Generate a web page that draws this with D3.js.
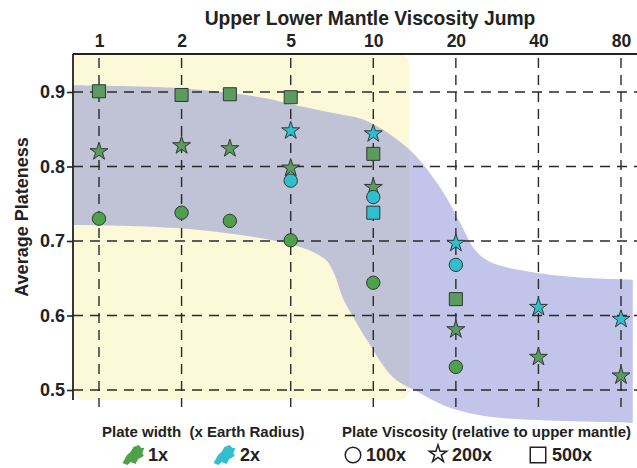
<!DOCTYPE html>
<html><head><meta charset="utf-8">
<script src="https://cdn.jsdelivr.net/npm/d3@7"></script>
<style>
html,body{margin:0;padding:0;background:#fff;}
svg{display:block;font-family:"Liberation Sans",Arial,sans-serif;}
</style></head>
<body>
<svg id="chart" width="637" height="468"></svg>
<script>
// ---- data ----
const xTicks = [1, 2, 5, 10, 20, 40, 80];
const yTicks = [0.5, 0.6, 0.7, 0.8, 0.9];

// 1x plate width
const g100Jump = [1, 2, 3, 5, 10, 20];
const g100Val  = [0.730, 0.738, 0.727, 0.701, 0.644, 0.531];
const g200Jump = [1, 2, 3, 5, 10, 20, 40, 80];
const g200Val  = [0.820, 0.828, 0.824, 0.798, 0.772, 0.581, 0.544, 0.519];
const g500Jump = [1, 2, 3, 5, 10, 20];
const g500Val  = [0.901, 0.896, 0.897, 0.893, 0.817, 0.622];
// 2x plate width
const c100Jump = [5, 10, 20];
const c100Val  = [0.781, 0.759, 0.668];
const c200Jump = [5, 10, 20, 40, 80];
const c200Val  = [0.848, 0.844, 0.697, 0.611, 0.595];
const c500Jump = [10];
const c500Val  = [0.738];

// shaded band (upper and lower boundary)
const bandUpperJump = [0.804, 1.97, 3.86, 5.40, 7.56, 9.48, 13.6, 17.5, 20.7, 23.5, 26.6, 34.2, 52.1, 88.3];
const bandUpperVal  = [0.909, 0.905, 0.893, 0.881, 0.870, 0.861, 0.822, 0.772, 0.725, 0.688, 0.672, 0.661, 0.652, 0.648];
const bandLowerJump = [0.804, 1.97, 3.86, 5.40, 6.13, 6.78, 7.24, 7.75, 8.57, 9.48, 11.8, 14.8, 18.2, 24.5, 37.2, 88.3];
const bandLowerVal  = [0.7215, 0.717, 0.704, 0.692, 0.684, 0.673, 0.654, 0.623, 0.594, 0.567, 0.517, 0.496, 0.479, 0.466, 0.460, 0.456];

// highlighted (yellow) region upper bound of viscosity jump
const highlightJumpMax = 13.5;

// ---- layout ----
const svg = d3.select("#chart");
const axisTop = 54, axisBottom = 400, axisLeft = 73, rightEdge = 637;
const x = d3.scaleLog().base(2).domain([1, 80]).range([99, 621]);
const y = d3.scaleLinear().domain([0.5, 0.9]).range([390, 92]);

const greenSq = "#5d9a60", greenC = "#4ea04a", cyan = "#30bfcc";

// yellow highlight
svg.append("rect")
  .attr("x", axisLeft).attr("y", axisTop)
  .attr("width", x(highlightJumpMax) - axisLeft)
  .attr("height", axisBottom - axisTop)
  .attr("rx", 10).attr("ry", 10)
  .attr("fill", "#fbf9d8");
svg.append("rect")
  .attr("x", axisLeft).attr("y", axisTop)
  .attr("width", 20).attr("height", 20)
  .attr("fill", "#fbf9d8");

// band
const upperPts = bandUpperJump.map((j, i) => [x(j), y(bandUpperVal[i])]);
const lowerPts = bandLowerJump.map((j, i) => [x(j), y(bandLowerVal[i])]).reverse();
const ln = d3.line().curve(d3.curveCatmullRom.alpha(0.5));
const bandPath = ln(upperPts) + "L" + ln(lowerPts).slice(1) + "Z";
svg.append("path").attr("d", bandPath)
  .attr("fill", "#868bd4").attr("fill-opacity", 0.5);

// grid
const dash = "10,7";
svg.append("g").selectAll("line").data(yTicks).join("line")
  .attr("x1", axisLeft).attr("x2", rightEdge)
  .attr("y1", d => y(d)).attr("y2", d => y(d))
  .attr("stroke", "#2a2a2a").attr("stroke-width", 1.6)
  .attr("stroke-dasharray", dash);
svg.append("g").selectAll("line").data(xTicks).join("line")
  .attr("x1", d => x(d)).attr("x2", d => x(d))
  .attr("y1", axisTop).attr("y2", 407)
  .attr("stroke", "#2a2a2a").attr("stroke-width", 1.4)
  .attr("stroke-dasharray", dash).attr("stroke-dashoffset", -4);

// axes
const topAxis = d3.axisTop(x).tickValues(xTicks).tickFormat(d3.format("d")).tickSize(0).tickPadding(7);
const gTop = svg.append("g").attr("transform", `translate(0,${axisTop})`).call(topAxis);
gTop.select(".domain").attr("d", `M${axisLeft},0H${rightEdge}`).attr("stroke", "#222").attr("stroke-width", 1.8);
gTop.selectAll("text").attr("font-size", 17.5).attr("font-weight", "bold").attr("fill", "#222")
  .attr("font-family", "Liberation Sans, Arial, sans-serif");

const leftAxis = d3.axisLeft(y).tickValues(yTicks).tickFormat(d3.format(".1f")).tickSize(6).tickPadding(2);
const gLeft = svg.append("g").attr("transform", `translate(${axisLeft},0)`).call(leftAxis);
gLeft.select(".domain").attr("d", `M0,${axisTop}V${axisBottom}`).attr("stroke", "#222").attr("stroke-width", 1.8);
gLeft.selectAll(".tick line").attr("stroke", "#222").attr("stroke-width", 1.6);
gLeft.selectAll("text").attr("font-size", 18).attr("font-weight", "bold").attr("fill", "#222")
  .attr("font-family", "Liberation Sans, Arial, sans-serif");

// titles
svg.append("text").attr("x", 370).attr("y", 25).attr("text-anchor", "middle")
  .attr("font-size", 19.3).attr("font-weight", "bold").attr("fill", "#222")
  .text("Upper Lower Mantle Viscosity Jump");
svg.append("text").attr("transform", "translate(28,217) rotate(-90)").attr("text-anchor", "middle")
  .attr("font-size", 18).attr("font-weight", "bold").attr("fill", "#222")
  .text("Average Plateness");

// markers
function drawSeries(jumps, vals, type, size, color) {
  const sym = d3.symbol().type(type).size(size);
  svg.append("g").selectAll("path").data(jumps).join("path")
    .attr("transform", (d, i) => `translate(${x(d)},${y(vals[i])})`)
    .attr("d", sym)
    .attr("fill", color).attr("stroke", "#2d3a33").attr("stroke-width", 1);
}
drawSeries(g500Jump, g500Val, d3.symbolSquare, 170, greenSq);
drawSeries(g200Jump, g200Val, d3.symbolStar, 100, greenSq);
drawSeries(g100Jump, g100Val, d3.symbolCircle, 140, greenC);
drawSeries(c500Jump, c500Val, d3.symbolSquare, 170, cyan);
drawSeries(c200Jump, c200Val, d3.symbolStar, 100, cyan);
drawSeries(c100Jump, c100Val, d3.symbolCircle, 140, cyan);

// legend
const lg = svg.append("g");
lg.append("text").attr("x", 102).attr("y", 437).attr("font-size", 15).attr("font-weight", "bold")
  .attr("fill", "#222").style("white-space", "pre").text("Plate width  (x Earth Radius)");
lg.append("text").attr("x", 342).attr("y", 437).attr("font-size", 15).attr("font-weight", "bold")
  .attr("fill", "#222").text("Plate Viscosity (relative to upper mantle)");
const brush = "M-10,8 L-7,0 L-4,-3 L-2,-8 L3,-10 L6,-7 L9,-7 L8,-2 L10,1 L5,4 L3,9 L-2,7 L-5,10 Z";
[[134, 455, greenC, "1x", 148], [225, 455, cyan, "2x", 240]].forEach(([cx, cy, col, lab, tx]) => {
  lg.append("path").attr("d", brush).attr("transform", `translate(${cx},${cy}) skewX(-10)`).attr("fill", col);
  lg.append("text").attr("x", tx).attr("y", 461).attr("font-size", 18).attr("font-weight", "bold")
    .attr("fill", "#222").text(lab);
});
const legSyms = [[d3.symbolCircle, 190, 353, "100x", 366], [d3.symbolStar, 95, 438, "200x", 452], [d3.symbolSquare, 240, 538, "500x", 552]];
legSyms.forEach(([t, s, cx, lab, tx]) => {
  lg.append("path").attr("d", d3.symbol().type(t).size(s)).attr("transform", `translate(${cx},${t === d3.symbolStar ? 454 : 455})`)
    .attr("fill", "none").attr("stroke", "#222").attr("stroke-width", 1.5);
  lg.append("text").attr("x", tx).attr("y", 461).attr("font-size", 18).attr("font-weight", "bold")
    .attr("fill", "#222").text(lab);
});
</script>
</body></html>
